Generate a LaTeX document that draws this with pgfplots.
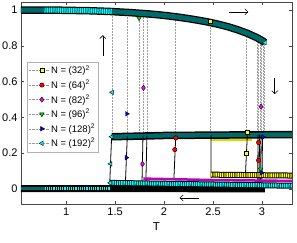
\documentclass[border=0pt]{standalone}
\usepackage{fontspec}
\setmainfont{Liberation Sans}
\usepackage{pgfplots}
\pgfplotsset{compat=1.18}
\usepackage{pgfplotstable}
\usetikzlibrary{arrows.meta}
\definecolor{cY}{RGB}{255,255,0}
\definecolor{cR}{RGB}{255,0,0}
\definecolor{cM}{RGB}{255,0,255}
\definecolor{cG}{RGB}{0,230,0}
\definecolor{cB}{RGB}{0,0,255}
\definecolor{cC}{RGB}{0,255,255}
\definecolor{cT}{RGB}{0,105,105}
\definecolor{axgray}{RGB}{70,70,70}

\pgfplotstableread{
T m
0.54 1.000
0.65 1.000
0.75 1.000
0.85 0.999
0.95 0.999
1.05 0.998
1.15 0.997
1.25 0.996
1.35 0.994
1.45 0.992
1.55 0.989
1.65 0.986
1.75 0.982
1.85 0.978
1.95 0.973
2.05 0.967
2.15 0.960
2.25 0.952
2.35 0.943
2.45 0.933
2.55 0.921
2.65 0.907
2.75 0.890
2.85 0.870
2.95 0.845
3.00 0.830
3.03 0.818
}\topbranch

\pgfplotstableread{
T m
1.465 0.292
1.80 0.296
2.00 0.299
2.50 0.301
3.00 0.303
3.31 0.304
}\midbranch

\begin{document}
\begin{tikzpicture}
\begin{axis}[
  scale only axis, width=271pt, height=202pt,
  xmin=0.54, xmax=3.306, ymin=-0.084, ymax=1.045,
  xtick={1,1.5,2,2.5,3}, ytick={0,0.2,0.4,0.6,0.8,1},
  tick align=inside, xtick pos=both, ytick pos=both,
  major tick length=3pt,
  axis line style={axgray, line width=0.5pt},
  tick style={axgray, line width=0.5pt},
  ticklabel style={font=\fontsize{11}{13}\selectfont},
  /pgf/number format/assume math mode=true,
  xlabel={T}, xlabel style={font=\fontsize{11.5}{13}\selectfont},
  unbounded coords=jump,
  legend style={at={(0.022,0.704)}, anchor=north west, draw=black!30,
    font=\fontsize{9.5}{11.5}\selectfont, inner sep=1.5pt, row sep=0.6pt},
  legend cell align=left,
  legend image code/.code={\draw[#1, mark repeat=2, mark phase=2] plot coordinates {(0pt,0pt) (13pt,0pt) (20pt,0pt)};},
]
\addlegendimage{black!40, densely dotted, mark=square*, mark size=2pt, mark options={solid, fill=cY, draw=black}}
\addlegendentry{N = (32)\textsuperscript{2}}
\addlegendimage{black!40, densely dotted, mark=*, mark size=2.2pt, mark options={solid, fill=cR, draw=black}}
\addlegendentry{N = (64)\textsuperscript{2}}
\addlegendimage{black!40, densely dotted, mark=diamond*, mark size=2.6pt, mark options={solid, fill=cM, draw=black}}
\addlegendentry{N = (82)\textsuperscript{2}}
\addlegendimage{black!40, densely dotted, mark=triangle*, mark size=2.6pt, mark options={solid, fill=cG, draw=black, rotate=180}}
\addlegendentry{N = (96)\textsuperscript{2}}
\addlegendimage{black!40, densely dotted, mark=triangle*, mark size=2.6pt, mark options={solid, fill=cB, draw=black, rotate=-90}}
\addlegendentry{N = (128)\textsuperscript{2}}
\addlegendimage{black!40, densely dotted, mark=triangle*, mark size=2.6pt, mark options={solid, fill=cC, draw=black, rotate=90}}
\addlegendentry{N = (192)\textsuperscript{2}}

% dotted drops from the upper branch to the middle branch
\addplot[forget plot, black!38, densely dotted, line width=0.5pt] coordinates {
(1.47,0.992) (1.47,0.292) (1.47,nan)
(1.62,0.987) (1.62,0.294) (1.62,nan)
(1.745,0.982) (1.745,0.296) (1.745,nan)
(1.79,0.980) (1.79,0.296) (1.79,nan)
(1.83,0.978) (1.83,0.297) (1.83,nan)
(2.11,0.963) (2.11,0.299) (2.11,nan)
(2.47,0.931) (2.47,0.301) (2.47,nan)
(2.84,0.872) (2.84,0.302) (2.84,nan)
(2.95,0.845) (2.95,0.303) (2.95,nan)
(2.965,0.840) (2.965,0.303) (2.965,nan)
(2.98,0.836) (2.98,0.303) (2.98,nan)
(2.995,0.831) (2.995,0.303) (2.995,nan)
(3.01,0.826) (3.01,0.303) (3.01,nan)
(3.025,0.820) (3.025,0.303)
};

% upper branch
\addplot[forget plot, black, line width=7.5pt] table {\topbranch};
\addplot[forget plot, cT, line width=5pt] table {\topbranch};
\addplot[forget plot, cC, line width=5pt, dash pattern=on 1.2pt off 1pt] coordinates {
(0.78,1.000) (1.05,0.998) (1.25,0.996) (1.47,0.992)};

% lower branch (black) with the cyan part at low T
\addplot[forget plot, black, line width=7pt] coordinates {(0.54,0.002) (1.50,0.002) (2.50,0.001) (3.03,0.0)};
\addplot[forget plot, cT, line width=3pt] coordinates {(0.54,0.002) (0.78,0.002)};
\addplot[forget plot, cC, line width=2.5pt, dash pattern=on 1.2pt off 1pt] coordinates {(0.78,0.002) (1.45,0.002)};

% yellow part under the middle branch
\addplot[forget plot, cY!85!black, line width=2.5pt] coordinates {(2.48,0.274) (2.90,0.276)};

% middle branch
\addplot[forget plot, black, line width=7.5pt] table {\midbranch};
\addplot[forget plot, cT, line width=4.5pt] table {\midbranch};

% solid jumps from the lower to the middle branch
\addplot[forget plot, black, line width=0.8pt] coordinates {
(1.445,0.025) (1.465,0.292) (1.465,nan)
(1.605,0.025) (1.625,0.294) (1.625,nan)
(1.775,0.035) (1.785,0.296) (1.785,nan)
(1.815,0.045) (1.825,0.297) (1.825,nan)
(2.10,0.05) (2.12,0.299) (2.12,nan)
(2.48,0.06) (2.48,0.301) (2.48,nan)
(2.83,0.07) (2.85,0.303) (2.85,nan)
(2.955,0.03) (2.96,0.303) (2.96,nan)
(2.97,0.03) (2.975,0.303) (2.975,nan)
(2.985,0.03) (2.99,0.303) (2.99,nan)
(3.00,0.03) (3.005,0.303)
};

% lower coloured branches
\addplot[forget plot, cM!75!black, line width=2.5pt] coordinates {(1.79,0.058) (2.50,0.050) (3.31,0.045)};
\addplot[forget plot, black, line width=6pt] coordinates {(2.48,0.080) (3.31,0.075)};
\addplot[forget plot, cY, line width=4pt, dash pattern=on 1.4pt off 0.8pt] coordinates {(2.48,0.080) (3.31,0.075)};
\addplot[forget plot, black, line width=6pt] coordinates {(1.45,0.034) (2.40,0.026) (3.31,0.018)};
\addplot[forget plot, cC, line width=4pt, dash pattern=on 1.4pt off 0.8pt] coordinates {(1.45,0.034) (2.40,0.026) (3.31,0.018)};

% markers
\addplot[forget plot, only marks, mark=square*, mark size=2pt, mark options={fill=cY, draw=black}] coordinates {
(2.47,0.935) (2.84,0.20) (2.85,0.32)};
\addplot[forget plot, only marks, mark=*, mark size=2.2pt, mark options={fill=cR, draw=black}] coordinates {
(2.11,0.22) (2.12,0.285) (2.965,0.26) (2.965,0.16)};
\addplot[forget plot, only marks, mark=diamond*, mark size=2.6pt, mark options={fill=cM, draw=black}] coordinates {
(1.79,0.565) (1.78,0.14) (2.99,0.46)};
\addplot[forget plot, only marks, mark=triangle*, mark size=2.6pt, mark options={fill=cG, draw=black, rotate=180}] coordinates {
(1.745,0.955) (2.985,0.11)};
\addplot[forget plot, only marks, mark=triangle*, mark size=2.6pt, mark options={fill=cB, draw=black, rotate=-90}] coordinates {
(1.62,0.42) (1.615,0.175) (2.995,0.09) (3.01,0.29)};
\addplot[forget plot, only marks, mark=triangle*, mark size=2.6pt, mark options={fill=cC, draw=black, rotate=90}] coordinates {
(1.47,0.54) (1.455,0.14) (1.465,0.292) (1.45,0.034) (3.03,0.818)};

% direction arrows
\draw[-{Straight Barb[length=3pt,width=6pt]}, line width=0.6pt] (axis cs:1.375,0.745) -- (axis cs:1.375,0.86);
\draw[-{Straight Barb[length=3pt,width=6pt]}, line width=0.6pt] (axis cs:2.66,0.99) -- (axis cs:2.86,0.99);
\draw[-{Straight Barb[length=3pt,width=6pt]}, line width=0.6pt] (axis cs:3.13,0.62) -- (axis cs:3.13,0.53);
\draw[-{Straight Barb[length=3pt,width=6pt]}, line width=0.6pt] (axis cs:2.36,-0.05) -- (axis cs:2.16,-0.05);
\end{axis}
\pgfresetboundingbox
\path (current axis.south west) ++(-21pt,-38pt) rectangle ([xshift=5pt,yshift=2pt]current axis.north east);
\end{tikzpicture}
\end{document}
